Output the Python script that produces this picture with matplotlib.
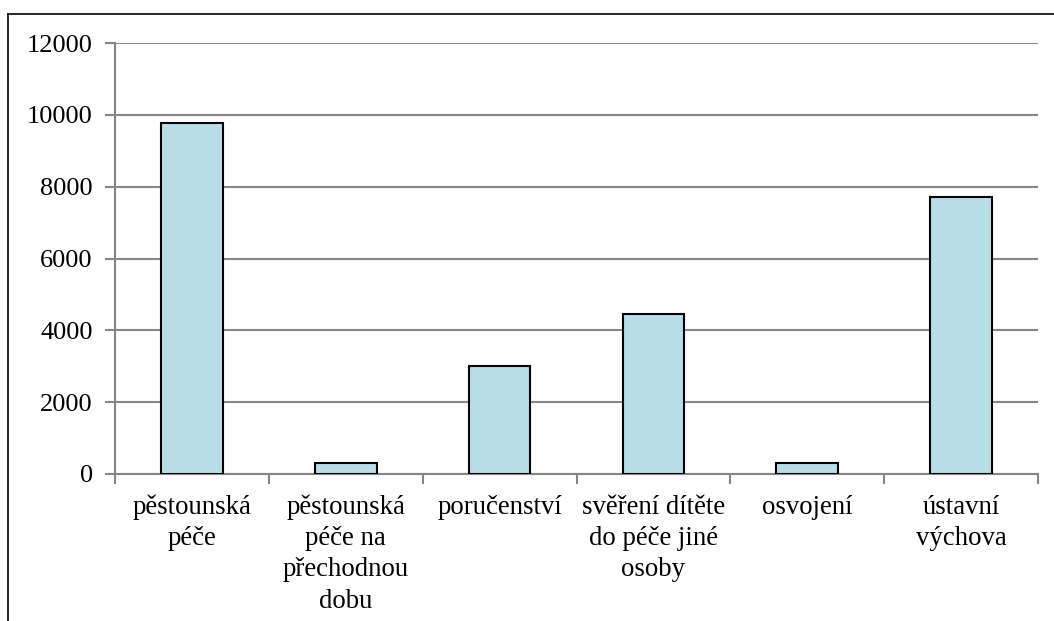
import matplotlib.pyplot as plt
from matplotlib.lines import Line2D
import numpy as np

# Data
categories = ['pěstounská\npéče', 'pěstounská\npéče na\npřechodnou\ndobu', 'poručenství',
              'svěření dítěte\ndo péče jiné\nosoby', 'osvojení', 'ústavní\nvýchova']
values = [9770, 320, 3000, 4450, 300, 7720]
y_ticks = [0, 2000, 4000, 6000, 8000, 10000, 12000]

plt.rcParams['font.family'] = ['Liberation Serif', 'DejaVu Serif']

fig = plt.figure(figsize=(10.54, 6.21), dpi=100)
ax = fig.add_axes([115 / 1054, 1 - 474 / 621, 923 / 1054, 431 / 621])

x = np.arange(len(categories))
ax.bar(x, values, width=0.4, color='#B7DDE8', edgecolor='black', linewidth=1.5, zorder=3)

ax.set_xlim(-0.5, len(categories) - 0.5)
ax.set_ylim(0, 12000)
ax.set_yticks(y_ticks)
ax.set_yticklabels([str(v) for v in y_ticks], fontsize=19)
ax.yaxis.grid(True, color='#868686', linewidth=1.5, zorder=0)

# labels at bar centres, tick marks at category boundaries
ax.set_xticks(x)
ax.set_xticklabels(categories, fontsize=19.3, linespacing=1.32)
ax.set_xticks(np.arange(-0.5, len(categories)), minor=True)
ax.tick_params(axis='x', which='major', length=0, pad=15)
ax.tick_params(axis='x', which='minor', length=7, width=1.5, color='#868686')
ax.tick_params(axis='y', length=7, width=1.5, color='#868686', pad=9)

for s in ['top', 'right']:
    ax.spines[s].set_visible(False)
for s in ['left', 'bottom']:
    ax.spines[s].set_color('#868686')
    ax.spines[s].set_linewidth(1.5)

# outer chart border (cropped)
fig.add_artist(Line2D([8 / 1054, 8 / 1054], [0, 1 - 14 / 621], color='black', lw=1.2,
                      transform=fig.transFigure))
fig.add_artist(Line2D([8 / 1054, 1], [1 - 14 / 621, 1 - 14 / 621], color='black', lw=1.2,
                      transform=fig.transFigure))

fig.savefig('out.png', dpi=100)
